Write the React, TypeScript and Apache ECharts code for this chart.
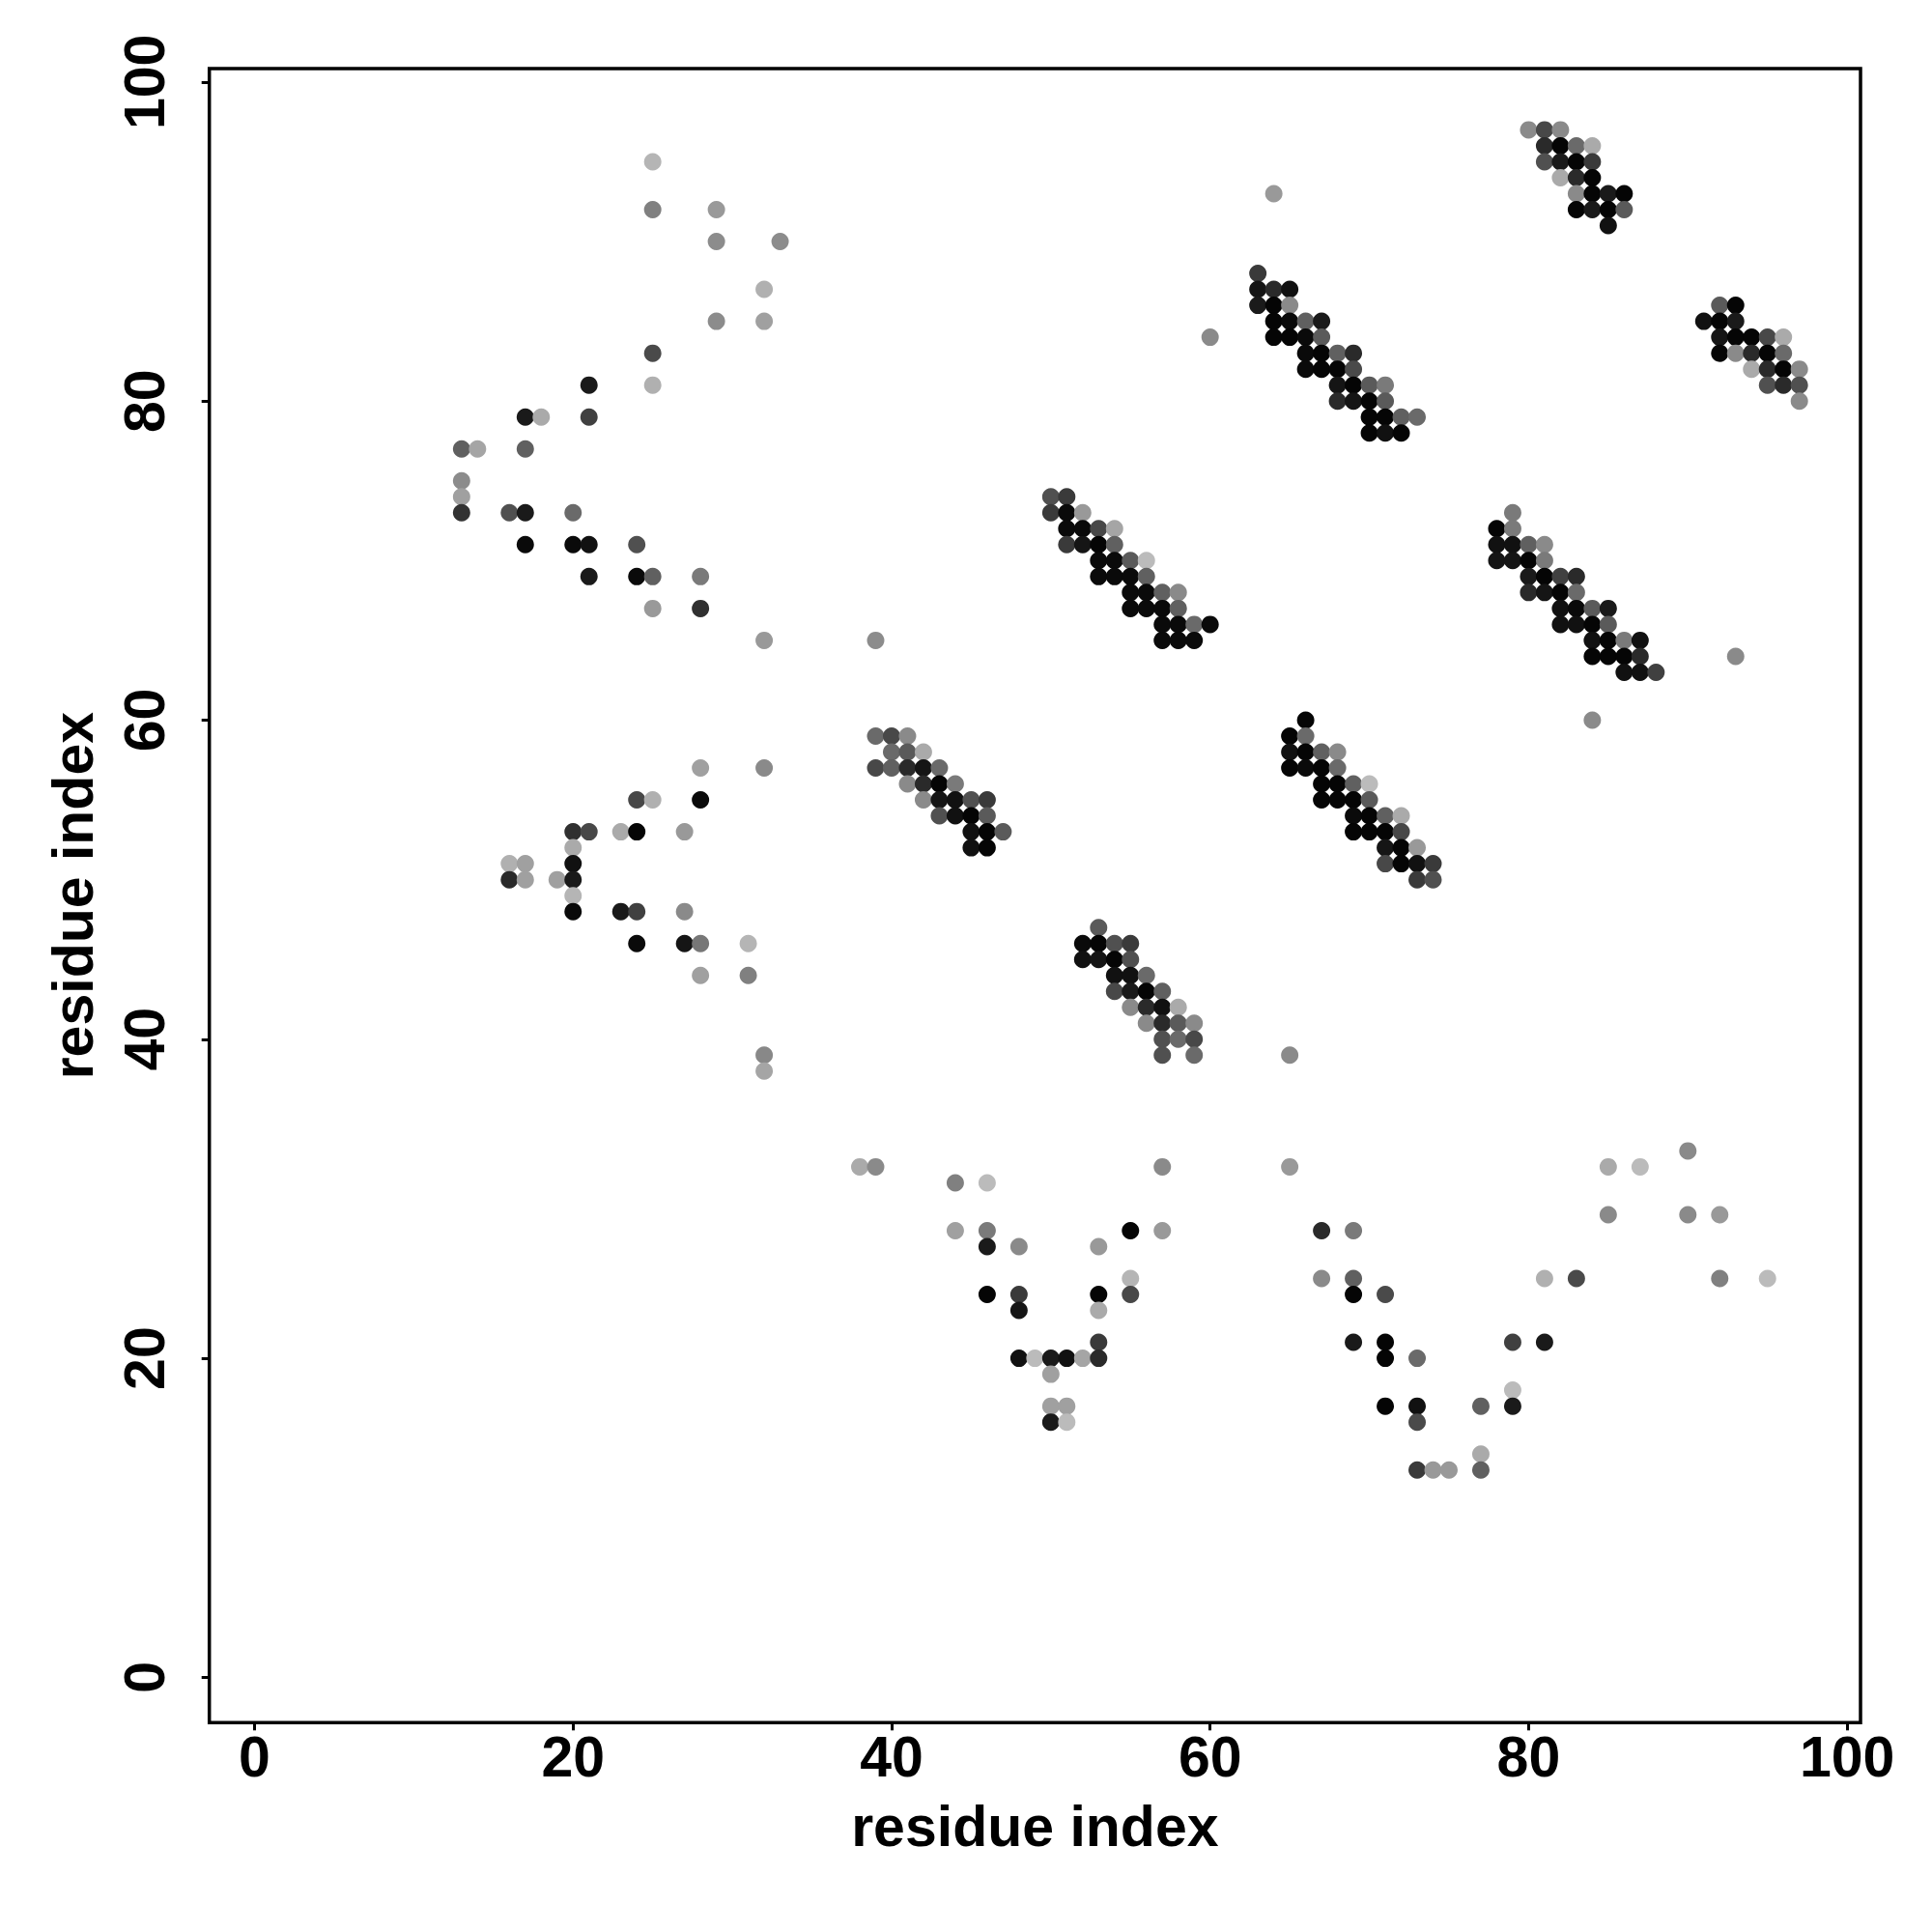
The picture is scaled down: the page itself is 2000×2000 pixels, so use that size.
import React, { useEffect, useRef } from "react";
import * as echarts from "echarts";

// Each contact: [residue i (x), residue j (y), grey shade 0-255]
const contactsUpperLeft: number[][] = [
  [25, 95, 0xb5], [25, 92, 0x80], [29, 92, 0x99], [29, 90, 0x8c], [33, 90, 0x8c], [32, 87, 0xb0],
  [29, 85, 0x8c], [32, 85, 0xa0], [25, 83, 0x4a], [21, 81, 0x1a], [25, 81, 0xb0], [17, 79, 0x1a],
  [18, 79, 0xaa], [21, 79, 0x40], [13, 77, 0x60], [14, 77, 0xa5], [17, 77, 0x60], [13, 75, 0x8c],
  [13, 74, 0xa0], [13, 73, 0x33], [16, 73, 0x50], [17, 73, 0x1a], [20, 73, 0x6a], [17, 71, 0x0a],
  [20, 71, 0x0a], [21, 71, 0x11], [24, 71, 0x50], [21, 69, 0x1a], [24, 69, 0x0a], [25, 69, 0x60],
  [28, 69, 0x7a], [25, 67, 0x99], [28, 67, 0x30], [32, 65, 0x99], [39, 65, 0x8c],
];

const contactsLowerLeft: number[][] = [
  [28, 57, 0xa0], [32, 57, 0x8a], [24, 55, 0x48], [25, 55, 0xb0], [28, 55, 0x0a], [20, 53, 0x30],
  [21, 53, 0x48], [23, 53, 0xaa], [24, 53, 0x05], [27, 53, 0x99], [20, 52, 0xaa], [16, 51, 0xb0],
  [17, 51, 0xa0], [20, 51, 0x11], [16, 50, 0x2a], [17, 50, 0xa0], [19, 50, 0xa0], [20, 50, 0x1a],
  [20, 49, 0xb5], [20, 48, 0x0a], [23, 48, 0x1a], [24, 48, 0x40], [27, 48, 0x8a], [24, 46, 0x0a],
  [27, 46, 0x15], [28, 46, 0x77], [31, 46, 0xb5], [28, 44, 0xa0], [31, 44, 0x80], [32, 39, 0x88],
  [32, 38, 0xa5],
];

const contactsHelix50: number[][] = [
  [50, 74, 0x50], [51, 74, 0x3a],
  [50, 73, 0x3a], [51, 73, 0x0a], [52, 73, 0x99],
  [51, 72, 0x0a], [52, 72, 0x0a], [53, 72, 0x48], [54, 72, 0xa5],
  [51, 71, 0x3a], [52, 71, 0x15], [53, 71, 0x05], [54, 71, 0x60],
  [53, 70, 0x0a], [54, 70, 0x0a], [55, 70, 0x5a], [56, 70, 0xbb],
  [53, 69, 0x0a], [54, 69, 0x0a], [55, 69, 0x0a], [56, 69, 0x60],
  [55, 68, 0x0a], [56, 68, 0x0a], [57, 68, 0x60], [58, 68, 0x8a],
  [55, 67, 0x0a], [56, 67, 0x0a], [57, 67, 0x0a], [58, 67, 0x60],
  [57, 66, 0x0a], [58, 66, 0x0a], [59, 66, 0x6a], [60, 66, 0x0a],
  [57, 65, 0x0a], [58, 65, 0x0a], [59, 65, 0x0a],
];

const contactsHelix40: number[][] = [
  [39, 59, 0x6a], [40, 59, 0x48], [41, 59, 0x8a],
  [40, 58, 0x6a], [41, 58, 0x5a], [42, 58, 0xaa],
  [39, 57, 0x48], [40, 57, 0x60], [41, 57, 0x2a], [42, 57, 0x15], [43, 57, 0x6a],
  [41, 56, 0x8a], [42, 56, 0x2a], [43, 56, 0x05], [44, 56, 0x7a],
  [42, 55, 0x8a], [43, 55, 0x15], [44, 55, 0x11], [45, 55, 0x50], [46, 55, 0x3a],
  [43, 54, 0x50], [44, 54, 0x11], [45, 54, 0x05], [46, 54, 0x5a],
  [45, 53, 0x11], [46, 53, 0x05], [47, 53, 0x5a],
  [45, 52, 0x11], [46, 52, 0x05],
];

const contactsHelix53: number[][] = [
  [53, 47, 0x5a],
  [52, 46, 0x0a], [53, 46, 0x05], [54, 46, 0x50], [55, 46, 0x3a],
  [52, 45, 0x11], [53, 45, 0x15], [54, 45, 0x05], [55, 45, 0x50],
  [54, 44, 0x11], [55, 44, 0x11], [56, 44, 0x6a],
  [54, 43, 0x48], [55, 43, 0x1a], [56, 43, 0x05], [57, 43, 0x60],
  [55, 42, 0x8a], [56, 42, 0x2a], [57, 42, 0x11], [58, 42, 0xaa],
  [56, 41, 0x8a], [57, 41, 0x2a], [58, 41, 0x5a], [59, 41, 0x8a],
  [57, 40, 0x50], [58, 40, 0x6a], [59, 40, 0x48],
  [57, 39, 0x50], [59, 39, 0x6a],
];

const contactsSheetLeft: number[][] = [
  [38, 32, 0xaa], [39, 32, 0x8a], [44, 31, 0x80], [46, 31, 0xbb], [57, 32, 0x8a],
  [44, 28, 0xa0], [46, 28, 0x7a], [55, 28, 0x05], [57, 28, 0x99],
  [46, 27, 0x1a], [48, 27, 0x8a], [53, 27, 0x99],
  [55, 25, 0xb5],
  [46, 24, 0x05], [48, 24, 0x3a], [53, 24, 0x05], [55, 24, 0x48],
  [48, 23, 0x15], [53, 23, 0xaa],
  [53, 21, 0x3a],
  [48, 20, 0x11], [49, 20, 0xbb], [50, 20, 0x1a], [51, 20, 0x11], [52, 20, 0xa5], [53, 20, 0x2a],
  [50, 19, 0xa0],
  [50, 17, 0xa0], [51, 17, 0xa0],
  [50, 16, 0x1a], [51, 16, 0xbb],
];

const contactsHelix63: number[][] = [
  [63, 88, 0x3a],
  [63, 87, 0x15], [64, 87, 0x2a], [65, 87, 0x11],
  [63, 86, 0x1a], [64, 86, 0x05], [65, 86, 0x8a],
  [64, 85, 0x05], [65, 85, 0x0a], [66, 85, 0x60], [67, 85, 0x1a],
  [64, 84, 0x05], [65, 84, 0x05], [66, 84, 0x0a], [67, 84, 0x5a],
  [66, 83, 0x0a], [67, 83, 0x05], [68, 83, 0x60], [69, 83, 0x2a],
  [66, 82, 0x0a], [67, 82, 0x05], [68, 82, 0x05], [69, 82, 0x4a],
  [68, 81, 0x15], [69, 81, 0x05], [70, 81, 0x5a], [71, 81, 0x7a],
  [68, 80, 0x2a], [69, 80, 0x15], [70, 80, 0x05], [71, 80, 0x5a],
  [70, 79, 0x05], [71, 79, 0x05], [72, 79, 0x60], [73, 79, 0x6a],
  [70, 78, 0x05], [71, 78, 0x11], [72, 78, 0x05],
  [60, 84, 0x8a], [64, 93, 0x99],
];

const contactsHelix80: number[][] = [
  [80, 97, 0x8a], [81, 97, 0x48], [82, 97, 0x8a],
  [81, 96, 0x2a], [82, 96, 0x05], [83, 96, 0x6a], [84, 96, 0xaa],
  [81, 95, 0x50], [82, 95, 0x1a], [83, 95, 0x05], [84, 95, 0x3a],
  [82, 94, 0xaa], [83, 94, 0x2a], [84, 94, 0x05],
  [83, 93, 0x8a], [84, 93, 0x05], [85, 93, 0x1a], [86, 93, 0x05],
  [83, 92, 0x05], [84, 92, 0x1a], [85, 92, 0x05], [86, 92, 0x5a],
  [85, 91, 0x11],
];

const contactsHelix92: number[][] = [
  [92, 86, 0x5a], [93, 86, 0x05],
  [91, 85, 0x11], [92, 85, 0x05], [93, 85, 0x1a],
  [92, 84, 0x15], [93, 84, 0x05], [94, 84, 0x05], [95, 84, 0x48], [96, 84, 0xaa],
  [92, 83, 0x05], [93, 83, 0x8a], [94, 83, 0x2a], [95, 83, 0x05], [96, 83, 0x6a],
  [94, 82, 0xaa], [95, 82, 0x2a], [96, 82, 0x05], [97, 82, 0x8a],
  [95, 81, 0x50], [96, 81, 0x2a], [97, 81, 0x50],
  [97, 80, 0x8a],
];

const contactsHelix78: number[][] = [
  [79, 73, 0x7a],
  [78, 72, 0x05], [79, 72, 0x7a],
  [78, 71, 0x11], [79, 71, 0x11], [80, 71, 0x60], [81, 71, 0x8a],
  [78, 70, 0x15], [79, 70, 0x15], [80, 70, 0x05], [81, 70, 0x7a],
  [80, 69, 0x1a], [81, 69, 0x05], [82, 69, 0x40], [83, 69, 0x2a],
  [80, 68, 0x2a], [81, 68, 0x15], [82, 68, 0x05], [83, 68, 0x6a],
  [82, 67, 0x11], [83, 67, 0x0a], [84, 67, 0x5a], [85, 67, 0x1a],
  [82, 66, 0x11], [83, 66, 0x11], [84, 66, 0x05], [85, 66, 0x5a],
  [84, 65, 0x11], [85, 65, 0x05], [86, 65, 0x7a], [87, 65, 0x11],
  [84, 64, 0x05], [85, 64, 0x05], [86, 64, 0x05], [87, 64, 0x2a],
  [86, 63, 0x11], [87, 63, 0x11], [88, 63, 0x40],
  [84, 60, 0x8a], [93, 64, 0x8a],
];

const contactsHelix65: number[][] = [
  [66, 60, 0x05],
  [65, 59, 0x05], [66, 59, 0x6a],
  [65, 58, 0x11], [66, 58, 0x05], [67, 58, 0x60], [68, 58, 0x8a],
  [65, 57, 0x05], [66, 57, 0x0a], [67, 57, 0x05], [68, 57, 0x6a],
  [67, 56, 0x05], [68, 56, 0x05], [69, 56, 0x60], [70, 56, 0xbb],
  [67, 55, 0x05], [68, 55, 0x05], [69, 55, 0x05], [70, 55, 0x5a],
  [69, 54, 0x0a], [70, 54, 0x05], [71, 54, 0x60], [72, 54, 0xaa],
  [69, 53, 0x05], [70, 53, 0x05], [71, 53, 0x05], [72, 53, 0x48],
  [71, 52, 0x15], [72, 52, 0x05], [73, 52, 0x99],
  [71, 51, 0x48], [72, 51, 0x05], [73, 51, 0x11], [74, 51, 0x3a],
  [73, 50, 0x3a], [74, 50, 0x50],
];

const contactsSheetRight: number[][] = [
  [65, 39, 0x8a], [65, 32, 0x99], [85, 32, 0xaa], [87, 32, 0xbb], [90, 33, 0x8a],
  [85, 29, 0x8a], [90, 29, 0x8a], [92, 29, 0x99],
  [67, 28, 0x2a], [69, 28, 0x7a],
  [67, 25, 0x8a], [69, 25, 0x60], [81, 25, 0xb0], [83, 25, 0x4a], [92, 25, 0x80], [95, 25, 0xbb],
  [69, 24, 0x05], [71, 24, 0x4a],
  [69, 21, 0x1a], [71, 21, 0x05], [79, 21, 0x40], [81, 21, 0x1a],
  [71, 20, 0x05], [73, 20, 0x6a],
  [79, 18, 0xbb],
  [71, 17, 0x05], [73, 17, 0x11], [77, 17, 0x60], [79, 17, 0x1a],
  [73, 16, 0x4a],
  [77, 14, 0xaa],
  [73, 13, 0x3a], [74, 13, 0x99], [75, 13, 0x99], [77, 13, 0x60],
];

const tickValues = [0, 20, 40, 60, 80, 100];
const axisTitle = "residue index";

const FONT = "'Liberation Sans', Arial, Helvetica, sans-serif";

export default function App() {
  const ref = useRef<HTMLDivElement>(null);

  useEffect(() => {
    if (!ref.current) return;
    const chart = echarts.init(ref.current, null, { renderer: "svg" });

    const all = [
      ...contactsUpperLeft,
      ...contactsLowerLeft,
      ...contactsHelix50,
      ...contactsHelix40,
      ...contactsHelix53,
      ...contactsSheetLeft,
      ...contactsHelix63,
      ...contactsHelix80,
      ...contactsHelix92,
      ...contactsHelix78,
      ...contactsHelix65,
      ...contactsSheetRight,
    ];
    const data = all.map((d) => ({
      value: [d[0], d[1]],
      itemStyle: { color: `rgb(${d[2]},${d[2]},${d[2]})` },
    }));

    const labelStyle = {
      fontSize: 59,
      fontWeight: "bold" as const,
      color: "#000",
      fontFamily: FONT,
    };

    chart.setOption({
      animation: false,
      backgroundColor: "#ffffff",
      grid: {
        left: 216.7,
        top: 71,
        width: 1709.3,
        height: 1712.3,
        show: true,
        borderColor: "#000",
        borderWidth: 3.5,
        backgroundColor: "transparent",
        containLabel: false,
      },
      xAxis: {
        type: "value",
        min: -2.84,
        max: 100.84,
        name: axisTitle,
        nameLocation: "middle",
        nameGap: 78,
        nameTextStyle: labelStyle,
        axisLine: { show: false, onZero: false },
        axisTick: {
          show: true,
          length: 8,
          customValues: tickValues,
          lineStyle: { color: "#000", width: 3 },
        },
        axisLabel: {
          ...labelStyle,
          margin: 6,
          customValues: tickValues,
        },
        splitLine: { show: false },
      },
      yAxis: {
        type: "value",
        min: -2.84,
        max: 100.84,
        name: axisTitle,
        nameLocation: "middle",
        nameGap: 111,
        nameTextStyle: labelStyle,
        axisLine: { show: false, onZero: false },
        axisTick: {
          show: true,
          length: 8,
          customValues: tickValues,
          lineStyle: { color: "#000", width: 3 },
        },
        axisLabel: {
          ...labelStyle,
          rotate: 90,
          margin: 37,
          customValues: tickValues,
        },
        splitLine: { show: false },
      },
      series: [
        {
          type: "scatter",
          symbol: "circle",
          symbolSize: 18,
          data,
          itemStyle: { opacity: 1 },
          emphasis: { disabled: true },
        },
      ],
    });

    return () => chart.dispose();
  }, []);

  return (
    <div
      ref={ref}
      style={{ position: "absolute", left: 0, top: 0, width: 2000, height: 2000, background: "#fff" }}
    />
  );
}
